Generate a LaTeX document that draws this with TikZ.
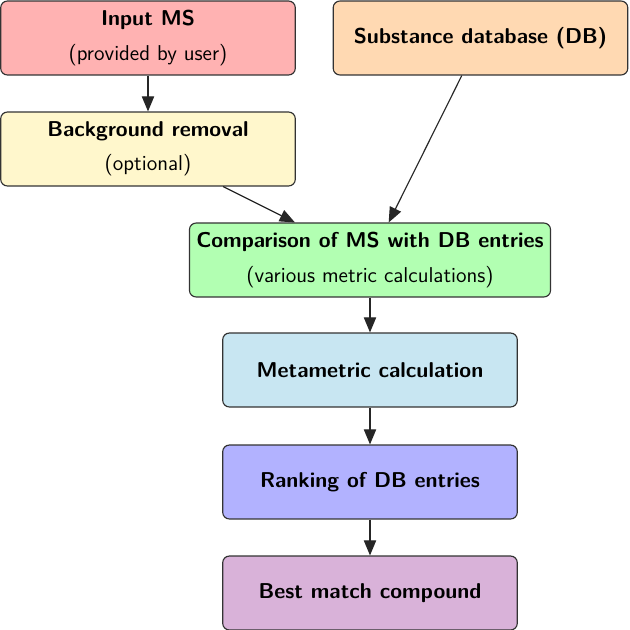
\documentclass[tikz,border=0pt]{standalone}
\usetikzlibrary{arrows.meta}
\definecolor{cInput}{RGB}{255,178,178}
\definecolor{cDB}{RGB}{255,217,178}
\definecolor{cBG}{RGB}{255,247,204}
\definecolor{cComp}{RGB}{178,255,178}
\definecolor{cMeta}{RGB}{200,230,242}
\definecolor{cRank}{RGB}{178,178,255}
\definecolor{cBest}{RGB}{217,178,217}
\tikzset{
  box/.style={draw=black!80, line width=0.6pt, rounded corners=3.5pt,
    minimum width=155pt, minimum height=38.9pt, align=center,
    font=\sffamily\fontsize{11.3}{13.6}\selectfont, inner sep=3pt},
  flow/.style={-{Triangle[length=8pt,width=6.5pt]}, line width=0.6pt, draw=black!85},
}
\begin{document}
\begin{tikzpicture}[x=0.5262pt, y=-0.5262pt]
\useasboundingbox (0,0) rectangle (630,630);
\node[box, fill=cInput] (inp) at (148,38) {\textbf{Input MS}\\[4.3pt](provided by user)};
\node[box, fill=cDB] (db) at (480.5,38) {\textbf{Substance database (DB)}};
\node[box, fill=cBG] (bg) at (148,149) {\textbf{Background removal}\\[4.3pt](optional)};
\node[box, fill=cComp, minimum width=190pt] (comp) at (370,260) {\textbf{Comparison of MS with DB entries}\\[4.3pt](various metric calculations)};
\node[box, fill=cMeta] (meta) at (370,370) {\textbf{Metametric calculation}};
\node[box, fill=cRank] (rank) at (370,482) {\textbf{Ranking of DB entries}};
\node[box, fill=cBest] (best) at (370,593) {\textbf{Best match compound}};
\draw[flow] (inp) -- (bg);
\draw[flow] (bg) -- (comp);
\draw[flow] (db) -- (comp);
\draw[flow] (comp) -- (meta);
\draw[flow] (meta) -- (rank);
\draw[flow] (rank) -- (best);
\end{tikzpicture}
\end{document}
